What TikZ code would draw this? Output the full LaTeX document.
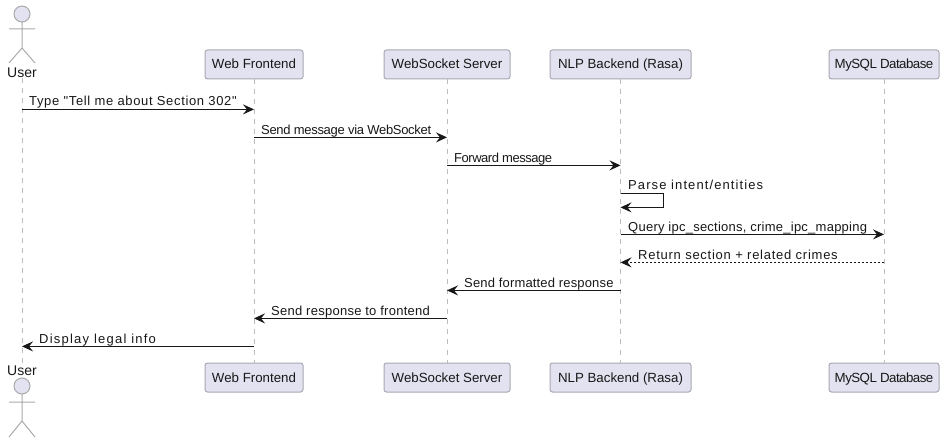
\documentclass[tikz,border=0pt]{standalone}
\usepackage{fontspec}
\setmainfont{Liberation Sans}
\newfontfamily\plainq{Liberation Sans}
\usetikzlibrary{arrows.meta}
\definecolor{partfill}{HTML}{E2E2F0}
\definecolor{partline}{HTML}{A8A8B4}
\definecolor{lifeln}{HTML}{BDBDBD}
\definecolor{ink}{HTML}{181818}
\newcommand{\ls}[1]{\addfontfeature{LetterSpace=#1}}
\tikzset{
  x=1pt,y=-1pt,
  part/.style={draw=partline,fill=partfill,rounded corners=2.5pt,line width=1pt,minimum height=29pt,inner xsep=0pt,inner ysep=0pt,text height=11pt,text depth=2pt,font=\fontsize{13.3}{16}\selectfont,text=ink},
  actorlbl/.style={font=\fontsize{14}{16}\selectfont,text=ink,inner sep=0pt},
  life/.style={draw=lifeln,line width=1pt,dash pattern=on 5pt off 5pt},
  body/.style={draw=lifeln!90!black,line width=1pt},
  msg/.style={draw=ink,line width=1pt,-{Stealth[length=11pt,width=10pt,inset=4pt]}},
  ret/.style={msg,dash pattern=on 2pt off 2pt},
  lbl/.style={font=\fontsize{13}{15}\selectfont,text=ink,inner sep=0pt,anchor=base west},
}
\begin{document}
\begin{tikzpicture}
\useasboundingbox (0,0) rectangle (947,443);
\fill[white] (0,0) rectangle (947,443);
% lifeline ends
\node[actorlbl] (ut) at (22,73) {User};
\node[actorlbl] (ub) at (22,371) {User};
\node[part,minimum width=98pt] (wt) at (254,64.5) {Web Frontend};
\node[part,minimum width=98pt] (wb) at (254,377.5) {Web Frontend};
\node[part,minimum width=126pt] (st) at (447,64.5) {WebSocket Server};
\node[part,minimum width=126pt] (sb) at (447,377.5) {WebSocket Server};
\node[part,minimum width=141pt] (nt) at (620.5,64.5) {NLP Backend (Rasa)};
\node[part,minimum width=141pt] (nb) at (620.5,377.5) {NLP Backend (Rasa)};
\node[part,minimum width=110pt] (mt) at (884,64.5) {\ls{-4}MySQL Database};
\node[part,minimum width=110pt] (mb) at (884,377.5) {\ls{-4}MySQL Database};
\draw[life] (ut.south) -- (ub.north);
\draw[life] (wt.south) -- (wb.north);
\draw[life] (st.south) -- (sb.north);
\draw[life] (nt.south) -- (nb.north);
\draw[life] (mt.south) -- (mb.north);
% actors
\draw[body,fill=partfill] (22,14) circle (8);
\draw[body] (22,22)--(22,48) (9,29)--(35,29) (9,63)--(22,48)--(35,63);
\draw[body,fill=partfill] (22,386) circle (8);
\draw[body] (22,394)--(22,421) (9,402)--(35,402) (9,437)--(22,421)--(35,437);
% message rows
\foreach \n/\y in {1/109.4,2/137.4,3/165.4,4/193.4,5/207.4,6/234.4,7/262.4,8/290.4,9/318.4,10/346.4}{
  \coordinate (r\n) at (0,\y);
}
\draw[msg] (ut |- r1) -- (wt |- r1);
\draw[msg] (wt |- r2) -- (st |- r2);
\draw[msg] (st |- r3) -- (nt |- r3);
\draw[msg] (nt |- r4) -| (663,207.4) -- (nt |- r5);
\draw[msg] (nt |- r6) -- (mt |- r6);
\draw[ret] (mt |- r7) -- (nt |- r7);
\draw[msg] (nt |- r8) -- (st |- r8);
\draw[msg] (st |- r9) -- (wt |- r9);
\draw[msg] (wt |- r10) -- (ut |- r10);
% labels
\node[lbl] (l1) at (29,106) {\plainq\ls{5}Type "Tell me about Section 302"};
\node[lbl] (l2) at (261,135) {\ls{-2.4}Send message via WebSocket};
\node[lbl] (l3) at (454,163) {\ls{-3.6}Forward message};
\node[lbl] (l4) at (628,190) {\ls{8.4}Parse intent/entities};
\node[lbl] (l6) at (628,232) {\ls{1.9}Query ipc\_sections, crime\_ipc\_mapping};
\node[lbl] (l7) at (638,260) {\ls{5.7}Return section + related crimes};
\node[lbl] (l8) at (464,288) {\ls{1.3}Send formatted response};
\node[lbl] (l9) at (271,316) {\ls{2}Send response to frontend};
\node[lbl] (l10) at (39,343) {\ls{9.5}Display legal info};
\end{tikzpicture}
\end{document}
